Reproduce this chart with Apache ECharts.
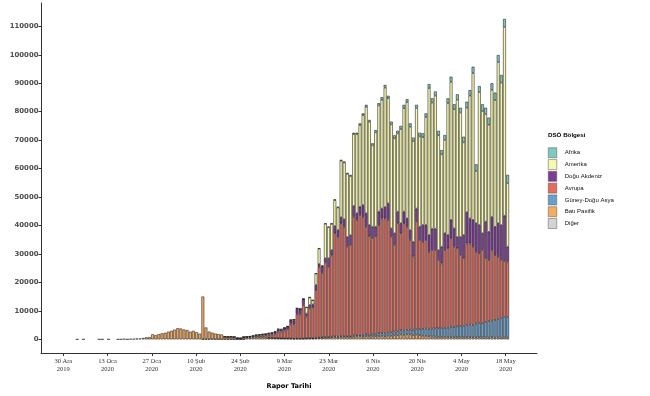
<!DOCTYPE html>
<html><head><meta charset="utf-8">
<script src="https://cdn.jsdelivr.net/npm/echarts@6/dist/echarts.min.js"></script>
<style>html,body{margin:0;padding:0;background:#fff}#c{width:650px;height:396px}</style>
</head><body><div id="c"></div>
<script>
// x ticks: day index counted from 30 Dec 2019
const tickDays = [0,14,28,42,56,70,84,98,112,126,140];
const tickLabels = ['30 Ara\n2019','13 Oca\n2020','27 Oca\n2020','10 Şub\n2020','24 Şub\n2020','9 Mar\n2020','23 Mar\n2020','6 Nis\n2020','20 Nis\n2020','4 May\n2020','18 May\n2020'];
const yTicks = [0,10000,20000,30000,40000,50000,60000,70000,80000,90000,100000,110000];
const LAST_DAY = 141;

// daily new cases per WHO region (first value = day given by *_START)
const BATI_PASIFIK_START = 0;
const batiPasifik = [null,null,null,null,0,null,0,null,null,null,
 null,0,0,null,0,null,null,4,17,136,
 19,151,140,267,265,474,694,784,1750,1480,
 1850,2100,2300,2700,3000,3400,3900,3800,3450,3250,
 2700,3000,2500,2000,15000,4100,2650,2250,1950,1750,
 1650,850,800,850,750,380,330,580,600,620,
 700,780,700,720,650,560,520,420,370,320,
 290,270,260,210,240,200,220,260,320,300,
 400,520,560,640,700,760,820,700,880,900,
 850,780,950,1000,1050,900,1100,980,1000,1100,
 1150,1200,1050,1300,1250,1400,1500,1700,1600,1750,
 1700,1500,1650,1450,1300,1200,1100,1000,950,900,
 850,880,800,820,780,750,800,700,760,720,
 700,680,750,700,650,640,700,620,660,600,
 650,600];

const DIGER_START = 44;
const diger = [40,70,70,100,90,80,60,50,60,30,20,10,10,5];

const GUNEY_DOGU_ASYA_START = 65;
const guneyDoguAsya = [10,20,15,25,20,
 20,30,40,35,60,50,70,80,90,100,
 120,110,150,160,140,190,220,260,300,280,
 330,360,420,500,480,620,700,680,760,900,
 1000,950,1150,1100,1200,1350,1300,1450,1500,1600,
 1700,1900,1850,2100,2400,2600,2500,2800,2900,3000,
 3100,3200,3300,3600,3500,3800,3900,4100,4300,4500,
 4400,4900,5100,5000,5400,5800,5900,6200,6600,6900,
 7200,7300];

const AVRUPA_START = 51;
const avrupa = [10,20,40,80,60,80,150,200,250,
 350,450,600,650,800,1000,1150,1550,2350,2400,
 2800,3200,5200,5100,8600,
 8750,11810,7660,10490,10800,
 16780,24870,22690,26200,24660,28550,36260,35040,39620,38420,
 31420,32060,41730,40500,42170,41580,37800,34540,33840,34200,
 38050,40350,40300,39600,33650,30450,38000,34150,37700,36250,
 31600,25700,37900,31350,30600,31100,27200,27600,27550,24000,
 22750,27320,27900,31080,28320,27450,24900,23700,28640,28480,
 27500,25220,24350,25700,22450,21460,24800,22780,21740,20400,
 19650,19400];

const DOGU_AKDENIZ_START = 51;
const doguAkdeniz = [10,20,30,40,50,60,100,120,150,
 200,300,350,400,450,550,600,700,800,750,
 800,900,1100,1300,1700,
 1600,2000,1100,1200,1100,
 1800,1000,2100,1500,3000,1900,2500,2400,2100,2600,
 3400,3400,3800,2300,2900,4100,4700,4000,4000,3400,
 4700,3500,4000,5800,2900,4100,4100,3500,4100,2900,
 3400,5200,4600,4700,5900,5300,5900,7500,7500,3500,
 5900,5900,4700,6500,6400,4000,6400,8200,11000,8800,
 9400,10000,10000,5900,12900,9900,11600,10000,11800,12300,
 16000,5300];

const AMERIKA_START = 57;
const amerika = [10,15,20,
 30,30,50,60,70,90,110,150,180,100,
 100,150,200,300,300,
 60,40,2130,2620,1410,
 3990,5370,250,12100,10920,9150,9100,7920,19850,19900,
 22120,20750,25200,27820,28700,31550,37400,36280,28550,33100,
 37280,38200,41950,36920,36500,33350,27450,33100,36350,40900,
 36300,35350,35300,31700,30850,37950,51600,44300,46750,40300,
 32400,32800,46350,48500,41850,48200,43700,32500,36700,43150,
 51600,18400,46700,42900,37750,37600,44700,44500,56650,50000,
 66300,22300];

const AFRIKA_START = 70;
const afrika = [10,20,20,30,40,40,60,70,80,90,
 110,130,150,200,180,250,300,280,350,400,
 380,450,500,480,600,650,700,620,750,800,
 820,900,950,880,1000,1050,950,1100,1150,1000,
 1200,1250,1100,1300,1350,1250,1400,1500,1450,1600,
 1500,1700,1650,1800,1750,1900,1700,2000,2100,1950,
 2200,2300,2100,2400,2250,2500,2300,2600,2450,2700,
 2800,2900];

const regions = [
  {name:'Diğer', values:diger, start:DIGER_START, color:'#D4D4D4'},
  {name:'Batı Pasifik', values:batiPasifik, start:BATI_PASIFIK_START, color:'#F6AB63'},
  {name:'Güney-Doğu Asya', values:guneyDoguAsya, start:GUNEY_DOGU_ASYA_START, color:'#6A9FCB'},
  {name:'Avrupa', values:avrupa, start:AVRUPA_START, color:'#E36C5E'},
  {name:'Doğu Akdeniz', values:doguAkdeniz, start:DOGU_AKDENIZ_START, color:'#7D3B94'},
  {name:'Amerika', values:amerika, start:AMERIKA_START, color:'#F8F8B0'},
  {name:'Afrika', values:afrika, start:AFRIKA_START, color:'#7FCAC0'}
];
const legendOrder = ['Afrika','Amerika','Doğu Akdeniz','Avrupa','Güney-Doğu Asya','Batı Pasifik','Diğer'];

// report day d -> date (day 0 = 30 Dec 2019)
const DAY_MS = 86400000;
const ORIGIN = Date.UTC(2019, 11, 30);
const dayToTime = d => ORIGIN + d * DAY_MS;
const X_MIN_DAY = -7.06, X_MAX_DAY = 149.9;

// one entry per day for every series so stacking lines up day by day
function pairs(values, start){
  const out = [];
  for (let d = 0; d <= LAST_DAY; d++) {
    const i = d - start;
    const v = (i >= 0 && i < values.length) ? values[i] : null;
    out.push([dayToTime(d), v === null ? '-' : v]);
  }
  return out;
}

const serifLabel = {fontFamily:'Liberation Serif', fontSize:6.5, lineHeight:7.5, color:'#333'};
const chart = echarts.init(document.getElementById('c'), null, {renderer:'canvas', useUTC:true});
chart.setOption({
  animation:false,
  useUTC:true,
  backgroundColor:'#fff',
  grid:{left:41, right:113, top:3, bottom:43, containLabel:false, outerBoundsMode:'none'},
  title:{text:'DSÖ Bölgesi', left:548, top:132, padding:0,
    textStyle:{fontFamily:'Liberation Sans', fontWeight:'bold', fontSize:6.2, color:'#000'}},
  legend:{orient:'vertical', left:548, top:147.5, padding:0, itemWidth:8.5, itemHeight:10, itemGap:1.3,
    data:legendOrder, icon:'rect', selectedMode:false,
    itemStyle:{borderColor:'#555', borderWidth:0.5},
    textStyle:{fontFamily:'Liberation Sans', fontSize:6, color:'#111', padding:[0,0,0,3]}},
  xAxis:[
    {type:'time', min:dayToTime(X_MIN_DAY), max:dayToTime(X_MAX_DAY), show:false},
    {type:'value', min:X_MIN_DAY, max:X_MAX_DAY, position:'bottom', splitLine:{show:false},
      axisLine:{show:true, onZero:false, lineStyle:{color:'#333', width:1}},
      axisTick:{show:true, customValues:tickDays, length:3, lineStyle:{color:'#333'}},
      axisLabel:Object.assign({customValues:tickDays, formatter:v=>tickLabels[tickDays.indexOf(v)] || '', margin:5}, serifLabel),
      name:'Rapor Tarihi', nameLocation:'middle', nameGap:30,
      nameTextStyle:{fontFamily:'DejaVu Sans', fontWeight:'bold', fontSize:6.6, color:'#000'}}
  ],
  yAxis:{type:'value', min:-4800, max:118200, splitLine:{show:false},
    axisLine:{show:true, onZero:false, lineStyle:{color:'#333', width:1}},
    axisTick:{show:true, customValues:yTicks, length:2.5, lineStyle:{color:'#333'}},
    axisLabel:{customValues:yTicks, formatter:v=>String(v), fontFamily:'DejaVu Sans', fontWeight:'bold', fontSize:6.9, color:'#4d4d4d', margin:2.5},
    name:'Vakalar', nameLocation:'middle', nameGap:35, nameRotate:90,
    nameTextStyle:{fontFamily:'DejaVu Sans', fontWeight:'bold', fontSize:6.6, color:'#000'}},
  series: regions.map(r=>({
    name:r.name, type:'bar', stack:'total', barWidth:2.84, xAxisIndex:0,
    data:pairs(r.values, r.start),
    itemStyle:{color:r.color, borderColor:'#1b1b1b', borderWidth:0.55},
    emphasis:{disabled:true}
  }))
});
</script></body></html>
